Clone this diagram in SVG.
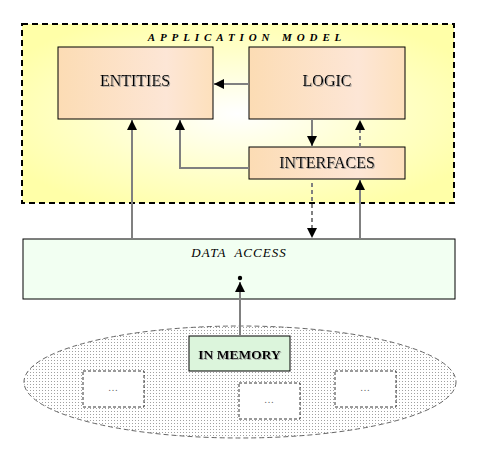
<svg xmlns="http://www.w3.org/2000/svg" width="481" height="457" viewBox="0 0 481 457">
<style>
.box{stroke:#000;stroke-width:1}
.lbl{font-family:"Liberation Serif",serif;font-size:16px;fill:#000;text-anchor:middle}
.con{stroke:#808080;stroke-width:2;fill:none}
.dash{stroke-dasharray:4,3}
.small{fill:#fff;stroke:#000;stroke-width:0.8;stroke-dasharray:3,2}
.dots{font-family:"Liberation Serif",serif;font-size:10px;fill:#666;text-anchor:middle}
</style>
<defs>
<radialGradient id="yel" cx="0.5" cy="0.5" r="0.6">
<stop offset="0" stop-color="#ffffff"/>
<stop offset="0.6" stop-color="#ffffc8"/>
<stop offset="1" stop-color="#ffffa8"/>
</radialGradient>
<linearGradient id="peach" x1="0" y1="0" x2="1" y2="0">
<stop offset="0" stop-color="#fcdcb4"/>
<stop offset="0.7" stop-color="#fde6d6"/>
<stop offset="1" stop-color="#fde0bc"/>
</linearGradient>
<pattern id="dotpat" width="3" height="3" patternUnits="userSpaceOnUse">
<rect width="3" height="3" fill="#ffffff"/>
<rect width="1" height="1" fill="#a0a0a0"/>
</pattern>
<marker id="ah" viewBox="0 0 10 10" refX="10" refY="5" markerWidth="5" markerHeight="5" orient="auto" markerUnits="strokeWidth">
<path d="M0,0 L10,5 L0,10 z" fill="#000"/>
</marker>
<filter id="sh" x="-10%" y="-30%" width="120%" height="160%">
<feDropShadow dx="1" dy="1" stdDeviation="0.4" flood-color="#999" flood-opacity="0.8"/>
</filter>
</defs>
<g id="application-model">
<rect x="22" y="24" width="432" height="179" fill="url(#yel)" stroke="#000" stroke-width="2" stroke-dasharray="6,4"/>
<text x="247" y="40.5" font-family="Liberation Serif,serif" font-size="11" font-weight="bold" font-style="italic" letter-spacing="4.9" text-anchor="middle">APPLICATION MODEL</text>
</g>
<g id="entities">
<rect class="box" x="58" y="47" width="155" height="72" fill="url(#peach)"/>
<text class="lbl" x="135" y="86" filter="url(#sh)">ENTITIES</text>
</g>
<g id="logic">
<rect class="box" x="249" y="47" width="156" height="72" fill="url(#peach)"/>
<text class="lbl" x="327" y="86" filter="url(#sh)">LOGIC</text>
</g>
<g id="interfaces">
<rect class="box" x="249" y="147" width="156" height="32" fill="url(#peach)"/>
<text class="lbl" x="327" y="168" filter="url(#sh)">INTERFACES</text>
</g>
<g id="data-access">
<rect class="box" x="23" y="239" width="432" height="60" fill="#f2fff2"/>
<text x="239" y="257" font-family="Liberation Serif,serif" font-size="13" font-style="italic" letter-spacing="1" text-anchor="middle" xml:space="preserve">DATA  ACCESS</text>
</g>
<g id="storage">
<ellipse cx="240" cy="382" rx="216" ry="56" fill="url(#dotpat)" stroke="#666" stroke-width="1" stroke-dasharray="5,3"/>
<rect class="small" x="83" y="371" width="61" height="36"/>
<text class="dots" x="113" y="391">…</text>
<rect class="small" x="239" y="383" width="61" height="36"/>
<text class="dots" x="269" y="403">…</text>
<rect class="small" x="335" y="371" width="61" height="36"/>
<text class="dots" x="365" y="391">…</text>
</g>
<g id="in-memory">
<rect class="box" x="189" y="336" width="101" height="35" fill="#dcf5dc"/>
<text x="239.5" y="359" font-family="Liberation Serif,serif" font-size="13.5" font-weight="bold" text-anchor="middle" filter="url(#sh)">IN MEMORY</text>
</g>
<g id="connectors">
<line class="con" x1="249" y1="84" x2="214" y2="84" marker-end="url(#ah)"/>
<line class="con" x1="132" y1="239" x2="132" y2="120" marker-end="url(#ah)"/>
<polyline class="con" points="249,168 180,168 180,120" marker-end="url(#ah)"/>
<line class="con" x1="312" y1="119" x2="312" y2="146" marker-end="url(#ah)"/>
<line class="con dash" x1="360" y1="147" x2="360" y2="120" marker-end="url(#ah)"/>
<line class="con dash" x1="312" y1="183" x2="312" y2="238" marker-end="url(#ah)"/>
<line class="con" x1="360" y1="239" x2="360" y2="180" marker-end="url(#ah)"/>
<line class="con" x1="240" y1="336" x2="240" y2="282" marker-end="url(#ah)"/>
<circle cx="240" cy="278" r="2.2" fill="#000"/>
</g>
</svg>
